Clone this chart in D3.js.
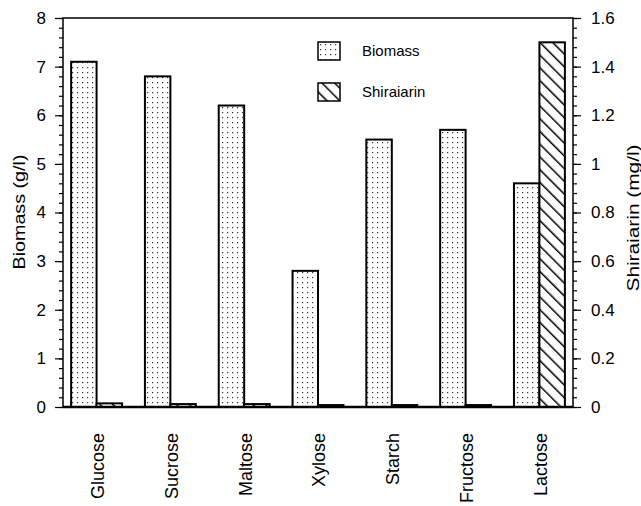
<!DOCTYPE html>
<html>
<head>
<meta charset="utf-8">
<script src="https://cdn.jsdelivr.net/npm/d3@7"></script>
<style>
  body { margin: 0; background: #fff; }
  text { font-family: "Liberation Sans", Arial, sans-serif; fill: #000; }
</style>
</head>
<body>
<svg id="chart" width="641" height="506"></svg>
<script>
// data
const sugars = ["Glucose", "Sucrose", "Maltose", "Xylose", "Starch", "Fructose", "Lactose"]
const biomass = [7.1, 6.8, 6.2, 2.8, 5.5, 5.7, 4.6]
const shiraiarin = [0.015, 0.012, 0.012, 0.008, 0.008, 0.008, 1.5]
const leftTicks = [0, 1, 2, 3, 4, 5, 6, 7, 8]
const rightTicks = [0, 0.2, 0.4, 0.6, 0.8, 1, 1.2, 1.4, 1.6]

let dims = { left: 63, right: 573, top: 18, bottom: 407 }
let svg = d3.select("#chart")

// patterns
let defs = svg.append("defs")
let dots = defs.append("pattern").attr("id", "dots")
  .attr("patternUnits", "userSpaceOnUse").attr("width", 5).attr("height", 5)
dots.append("rect").attr("width", 5).attr("height", 5).attr("fill", "#fff")
dots.append("rect").attr("x", 2).attr("y", 2).attr("width", 1.2).attr("height", 1.2).attr("fill", "#333")
let hatch = defs.append("pattern").attr("id", "hatch")
  .attr("patternUnits", "userSpaceOnUse").attr("width", 9).attr("height", 9)
  .attr("patternTransform", "rotate(-45)")
hatch.append("rect").attr("width", 9).attr("height", 9).attr("fill", "#fff")
hatch.append("line").attr("x1", 0).attr("y1", 0).attr("x2", 0).attr("y2", 9)
  .attr("stroke", "#000").attr("stroke-width", 3)

// scales
let x = d3.scaleBand().domain(sugars).range([dims.left, dims.right]).paddingInner(0.31).paddingOuter(0.11)
let xs = d3.scaleBand().domain(["b", "s"]).range([0, x.bandwidth()])
let yl = d3.scaleLinear().domain([0, 8]).range([dims.bottom, dims.top])
let yr = d3.scaleLinear().domain([0, 1.6]).range([dims.bottom, dims.top])

// bars
let g = svg.append("g")
g.selectAll("rect.bio").data(sugars).join("rect").attr("class", "bio")
  .attr("x", d => x(d) + xs("b"))
  .attr("y", (d, i) => yl(biomass[i]))
  .attr("width", xs.bandwidth())
  .attr("height", (d, i) => yl(0) - yl(biomass[i]))
  .attr("fill", "url(#dots)").attr("stroke", "#000").attr("stroke-width", 2)
g.selectAll("rect.shi").data(sugars).join("rect").attr("class", "shi")
  .attr("x", d => x(d) + xs("s"))
  .attr("y", (d, i) => yr(shiraiarin[i]))
  .attr("width", xs.bandwidth())
  .attr("height", (d, i) => yr(0) - yr(shiraiarin[i]))
  .attr("fill", "url(#hatch)").attr("stroke", "#000").attr("stroke-width", 2)

// frame
svg.append("rect").attr("x", dims.left).attr("y", dims.top)
  .attr("width", dims.right - dims.left).attr("height", dims.bottom - dims.top)
  .attr("fill", "none").attr("stroke", "#000").attr("stroke-width", 1.5)
svg.append("line").attr("x1", dims.left).attr("x2", dims.right)
  .attr("y1", dims.bottom).attr("y2", dims.bottom).attr("stroke", "#000").attr("stroke-width", 2.5)

// axes: minor ticks first, then majors with labels
let minorL = d3.range(0, 8.001, 0.2)
svg.append("g").attr("transform", `translate(${dims.left},0)`)
  .call(d3.axisLeft(yl).tickValues(minorL).tickSize(4).tickFormat(""))
  .call(a => a.select(".domain").remove())
let axL = svg.append("g").attr("transform", `translate(${dims.left},0)`)
  .call(d3.axisLeft(yl).tickValues(leftTicks).tickSize(8).tickPadding(9).tickFormat(d3.format("d")))
axL.select(".domain").remove()
axL.selectAll("text").style("font-size", "17px")

let minorR = d3.range(0, 1.6001, 0.04)
svg.append("g").attr("transform", `translate(${dims.right},0)`)
  .call(d3.axisRight(yr).tickValues(minorR).tickSize(4).tickFormat(""))
  .call(a => a.select(".domain").remove())
let axR = svg.append("g").attr("transform", `translate(${dims.right},0)`)
  .call(d3.axisRight(yr).tickValues(rightTicks).tickSize(8).tickPadding(10).tickFormat(d => d3.format("~g")(d)))
axR.select(".domain").remove()
axR.selectAll("text").style("font-size", "17px")
svg.selectAll(".tick line").attr("stroke", "#000").attr("stroke-width", 1.2)

// category labels
svg.append("g").selectAll("text").data(sugars).join("text")
  .attr("transform", d => `translate(${x(d) + x.bandwidth() / 2 + 1},433) rotate(-90)`)
  .attr("text-anchor", "end").attr("dy", "0.35em")
  .style("font-size", "18px").text(d => d)

// axis titles
svg.append("text").attr("transform", "translate(19,212) rotate(-90)")
  .attr("text-anchor", "middle").attr("dy", "0.35em").style("font-size", "16px")
  .attr("textLength", 115).attr("lengthAdjust", "spacingAndGlyphs").text("Biomass (g/l)")
svg.append("text").attr("transform", "translate(633,218) rotate(-90)")
  .attr("text-anchor", "middle").attr("dy", "0.35em").style("font-size", "16px")
  .attr("textLength", 147).attr("lengthAdjust", "spacingAndGlyphs").text("Shiraiarin (mg/l)")

// legend
let legend = [["Biomass", "url(#dots)"], ["Shiraiarin", "url(#hatch)"]]
let lg = svg.append("g").attr("transform", "translate(318,42)")
lg.selectAll("rect").data(legend).join("rect")
  .attr("x", 0).attr("y", (d, i) => i * 41)
  .attr("width", 22).attr("height", 18)
  .attr("fill", d => d[1]).attr("stroke", "#000").attr("stroke-width", 1.5)
lg.selectAll("text").data(legend).join("text")
  .attr("x", 44).attr("y", (d, i) => i * 41 + 9).attr("dy", "0.35em")
  .style("font-size", "15px").text(d => d[0])
</script>
</body>
</html>
